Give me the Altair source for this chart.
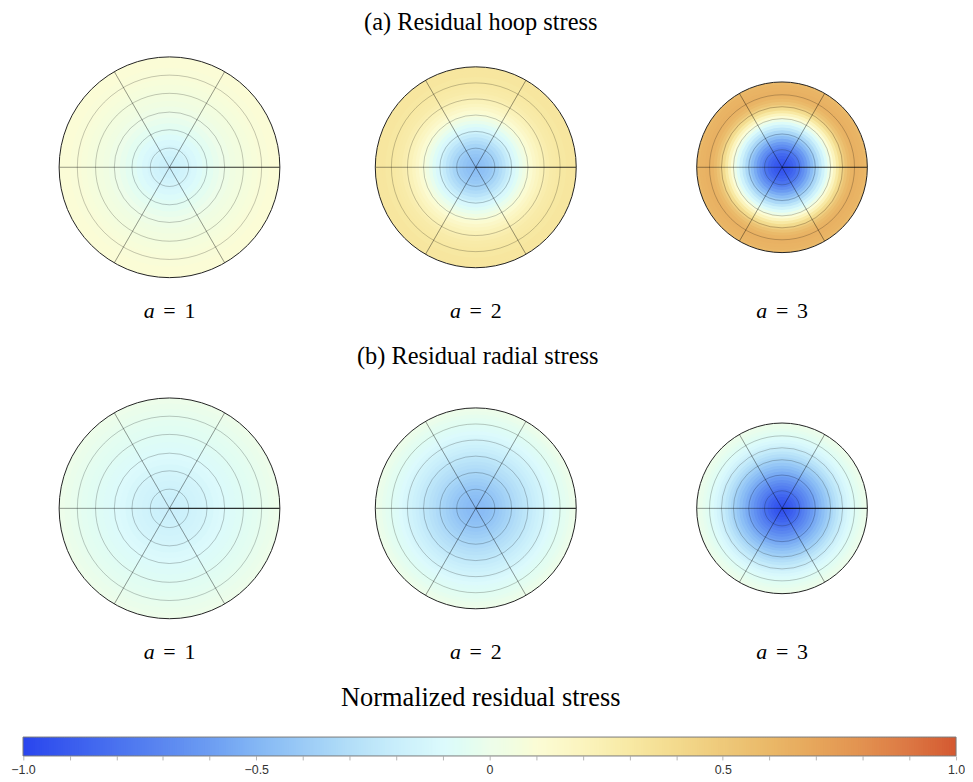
import altair as alt
import pandas as pd
import numpy as np

# ---------------- data ----------------
A_VALUES = [1, 2, 3]
OUTER_RADIUS = [1.0, 0.91, 0.773]          # deformed outer radius (relative to a = 1)

# stress sampled at equal radial bands (centre -> rim), fraction of outer radius
HOOP_A1 = [-0.19, -0.18, -0.16, -0.14, -0.12, -0.09, -0.06, -0.04, -0.02, 0.00,
           0.02, 0.04, 0.05, 0.06, 0.07, 0.08, 0.09, 0.09, 0.10, 0.10]
HOOP_A2 = [-0.47, -0.46, -0.45, -0.43, -0.41, -0.38, -0.35, -0.31, -0.27, -0.22,
           -0.17, -0.12, -0.07, -0.02, 0.03, 0.08, 0.12, 0.16, 0.19, 0.22,
           0.24, 0.26, 0.28, 0.29, 0.30, 0.31, 0.31, 0.32, 0.32, 0.32]
HOOP_A3 = [-0.94, -0.93, -0.91, -0.88, -0.84, -0.79, -0.73, -0.67, -0.61, -0.54,
           -0.47, -0.40, -0.33, -0.25, -0.17, -0.08, 0.01, 0.10, 0.20, 0.30,
           0.39, 0.47, 0.54, 0.59, 0.62, 0.64, 0.64, 0.63, 0.62, 0.60]
RADIAL_A1 = [-0.19, -0.19, -0.18, -0.17, -0.16, -0.15, -0.14, -0.13, -0.11, -0.10,
             -0.09, -0.08, -0.07, -0.06, -0.05, -0.04, -0.03, -0.02, -0.01, 0.00]
RADIAL_A2 = [-0.48, -0.47, -0.47, -0.46, -0.45, -0.43, -0.42, -0.40, -0.38, -0.36,
             -0.34, -0.32, -0.30, -0.28, -0.26, -0.24, -0.22, -0.20, -0.18, -0.16,
             -0.14, -0.12, -0.10, -0.08, -0.07, -0.05, -0.04, -0.025, -0.01, 0.00]
RADIAL_A3 = [-0.95, -0.94, -0.92, -0.89, -0.86, -0.82, -0.78, -0.74, -0.70, -0.66,
             -0.62, -0.58, -0.54, -0.50, -0.46, -0.42, -0.38, -0.34, -0.30, -0.26,
             -0.22, -0.19, -0.15, -0.12, -0.09, -0.07, -0.05, -0.03, -0.015, -0.005]

# material grid circles (fraction of outer radius) for each a
RINGS_A1 = [0.174, 0.34, 0.50, 0.67, 0.835]
RINGS_A2 = [0.19, 0.357, 0.52, 0.68, 0.84]
RINGS_A3 = [0.206, 0.39, 0.57, 0.71, 0.85]
SPOKE_DEG = [0, 60, 120, 180, 240, 300]

ROW_TITLES = ["(a) Residual hoop stress", "(b) Residual radial stress"]
CBAR_TITLE = "Normalized residual stress"
CB_TICKS = [-1.0, -0.9, -0.8, -0.7, -0.6, -0.5, -0.4, -0.3, -0.2, -0.1, 0.0,
            0.1, 0.2, 0.3, 0.4, 0.5, 0.6, 0.7, 0.8, 0.9, 1.0]

# colour map stops
CMAP_POS = [-1.0, -0.9, -0.8, -0.7, -0.6, -0.5, -0.4, -0.3, -0.2, -0.1, 0.0,
            0.1, 0.2, 0.3, 0.4, 0.5, 0.6, 0.7, 0.8, 0.9, 1.0]
CMAP_COL = ["#2a45ee", "#3a5cee", "#4a72ef", "#5b87f0", "#6d9df2", "#84b6f4",
            "#9bcbf6", "#b3def8", "#c9eefb", "#dcfafc", "#edfdea", "#fbfcd6",
            "#fbf4be", "#f8e9a4", "#f3da8d", "#eec97a", "#eab868", "#e6a65b",
            "#e29150", "#dc7744", "#d45831"]

# ---------------- layout ----------------
W = 308
H1, H2 = 335, 393
RPX = 111
SERIF = "Liberation Serif"
SANS = "Liberation Sans"

color_scale = alt.Scale(domain=CMAP_POS, range=CMAP_COL, clamp=True)
r_scale = alt.Scale(type="linear", domain=[0, 1], range=[0, RPX], zero=True)
t_scale = alt.Scale(type="linear", domain=[0, 360], range=[1.5708, 7.8540])


def panel(i, values, rings, height, cy, label_y, texts=()):
    a = A_VALUES[i]
    R = OUTER_RADIUS[i]
    cx = W / 2
    center = dict(x=alt.value(cx), y=alt.value(cy))
    n = len(values)
    disc_df = pd.DataFrame({"rad": [R * (k + 1) / n for k in range(n)], "val": values})
    disc_df = disc_df.iloc[::-1].reset_index(drop=True)
    ring_df = pd.DataFrame({"rad": [R * f for f in rings]})
    spoke_df = pd.DataFrame({"deg": SPOKE_DEG, "rad": [R] * len(SPOKE_DEG)})
    outer_df = pd.DataFrame({"rad": [R]})

    discs = alt.Chart(disc_df).mark_arc(theta=0, theta2=6.2832).encode(
        radius=alt.Radius("rad:Q", scale=r_scale, stack=False),
        color=alt.Color("val:Q", scale=color_scale, legend=None),
        **center,
    )
    rings_l = alt.Chart(ring_df).mark_arc(
        theta=0, theta2=6.2832, filled=False, stroke="#000000",
        strokeOpacity=0.22, strokeWidth=1,
    ).encode(radius=alt.Radius("rad:Q", scale=r_scale, stack=False), **center)
    spokes = alt.Chart(spoke_df).transform_filter("datum.deg != 0").mark_arc(
        filled=False, stroke="#000000", strokeOpacity=0.22, strokeWidth=1,
    ).encode(
        theta=alt.Theta("deg:Q", scale=t_scale, stack=False),
        theta2=alt.Theta2("deg:Q"),
        radius=alt.Radius("rad:Q", scale=r_scale, stack=False),
        **center,
    )
    dark = alt.Chart(spoke_df).transform_filter("datum.deg == 0").mark_arc(
        filled=False, stroke="#000000", strokeOpacity=0.8, strokeWidth=1.2,
    ).encode(
        theta=alt.Theta("deg:Q", scale=t_scale, stack=False),
        theta2=alt.Theta2("deg:Q"),
        radius=alt.Radius("rad:Q", scale=r_scale, stack=False),
        **center,
    )
    outer = alt.Chart(outer_df).mark_arc(
        theta=0, theta2=6.2832, filled=False, stroke="#222222", strokeWidth=1,
    ).encode(radius=alt.Radius("rad:Q", scale=r_scale, stack=False), **center)

    lab = pd.DataFrame({"a": [a]})
    lab_a = alt.Chart(lab).mark_text(
        text="a", font=SERIF, fontSize=22, fontStyle="italic", fontWeight="normal",
        align="right", baseline="alphabetic", color="#000000",
    ).encode(x=alt.value(cx - 15), y=alt.value(label_y))
    lab_eq = alt.Chart(lab).mark_text(
        text="=", font=SERIF, fontSize=22, fontWeight="normal", align="center",
        baseline="alphabetic", color="#000000",
    ).encode(x=alt.value(cx), y=alt.value(label_y))
    lab_n = alt.Chart(lab).transform_calculate(t="'' + datum.a").mark_text(
        font=SERIF, fontSize=22, fontWeight="normal", align="left",
        baseline="alphabetic", color="#000000",
    ).encode(text="t:N", x=alt.value(cx + 15), y=alt.value(label_y))

    layers = [discs, rings_l, spokes, dark, outer, lab_a, lab_eq, lab_n]
    for (txt, tx, ty, fs, base) in texts:
        layers.append(
            alt.Chart(pd.DataFrame({"t": [txt]})).mark_text(
                font=SERIF, fontSize=fs, fontWeight="normal", align="center",
                baseline=base, color="#000000",
            ).encode(text="t:N", x=alt.value(tx), y=alt.value(ty))
        )
    return alt.layer(*layers).properties(width=W, height=height)


hoop = [HOOP_A1, HOOP_A2, HOOP_A3]
radial = [RADIAL_A1, RADIAL_A2, RADIAL_A3]
rings = [RINGS_A1, RINGS_A2, RINGS_A3]

row1 = alt.hconcat(
    *[panel(i, hoop[i], rings[i], H1, 157, 309,
            texts=[(ROW_TITLES[0], 159, 0, 24.5, "top")] if i == 1 else ())
      for i in range(3)],
    spacing=0,
)
row2 = alt.hconcat(
    *[panel(i, radial[i], rings[i], H2, 164, 315.5,
            texts=[(ROW_TITLES[1], 156, 0, 24.5, "top"),
                   (CBAR_TITLE, 159, 362.5, 26.5, "alphabetic")] if i == 1 else ())
      for i in range(3)],
    spacing=0,
)

# ---------------- colour bar ----------------
CB_W, CB_H = 945, 19
STEP = 0.005
cb_vals = np.round(np.arange(-1.0, 1.0, STEP), 4)
cb_df = pd.DataFrame({"x0": cb_vals, "x1": np.minimum(cb_vals + STEP * 1.6, 1.0),
                      "v": cb_vals + STEP / 2})
cb_scale = alt.Scale(type="linear", domain=[-1, 1], range=[6.7, CB_W], nice=False, zero=False)

label_expr = (
    "abs(datum.value*2 - round(datum.value*2)) < 0.001 ? "
    "(abs(datum.value) < 0.001 ? '0' : replace(format(datum.value, '.1f'), '-', '\u2212')) : ''"
)
strip = alt.Chart(cb_df).mark_rect().encode(
    x=alt.X("x0:Q", scale=cb_scale, axis=alt.Axis(
        values=CB_TICKS, labelExpr=label_expr, title=None, domain=False, grid=False,
        ticks=True, tickSize=4, tickColor="#b5b5b5", tickWidth=1,
        labelFont=SANS, labelFontSize=12.5, labelColor="#333333", labelPadding=4,
        labelFlush=False, labelOverlap=False)),
    x2="x1:Q",
    color=alt.Color("v:Q", scale=color_scale, legend=None),
)
frame = alt.Chart(pd.DataFrame({"lo": [-1.0], "hi": [1.0]})).mark_rect(
    fillOpacity=0, stroke="#7a7a7a", strokeWidth=1,
).encode(x=alt.X("lo:Q", scale=cb_scale), x2="hi:Q")

cbar = alt.layer(strip, frame).properties(width=CB_W, height=CB_H)

chart = alt.vconcat(row1, row2, cbar, spacing=0).properties(
    padding={"left": 2.4, "top": 0, "right": 0, "bottom": 0}
).configure_view(strokeWidth=0)

chart.save("out.html", embed_options={"renderer": "svg", "actions": False})
